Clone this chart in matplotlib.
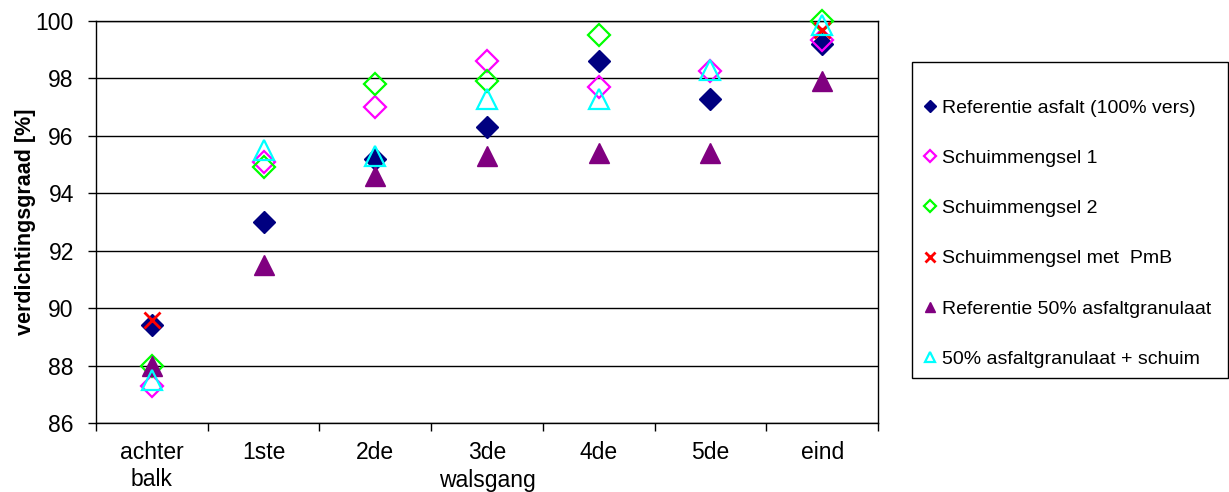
import numpy as np
import matplotlib.pyplot as plt
from matplotlib.patches import Rectangle

plt.rcParams.update({
    'font.family': ['Liberation Sans', 'DejaVu Sans'],
    'font.size': 16.5,
    'axes.linewidth': 1.0,
})

stappen = ['achter\nbalk', '1ste', '2de', '3de', '4de', '5de', 'eind']

ref_asfalt = [89.4, 93.0, 95.2, 96.3, 98.6, 97.3, 99.2]
schuim_1 = [87.3, 95.1, 97.0, 98.6, 97.7, 98.25, 99.35]
schuim_2 = [88.0, 94.9, 97.8, 97.9, 99.5, np.nan, 100.0]
schuim_pmb = [89.6, np.nan, np.nan, np.nan, np.nan, np.nan, 99.7]
ref_50 = [88.0, 91.5, 94.6, 95.3, 95.4, 95.4, 97.9]
granulaat_schuim = [87.5, 95.5, 95.3, 97.3, 97.3, 98.3, 99.85]

series = [
    ('Referentie asfalt (100% vers)', ref_asfalt, dict(marker='D', color='#000080', ms=11, mec='#000080')),
    ('Schuimmengsel 1', schuim_1, dict(marker='D', color='none', ms=11, mec='#FF00FF', mew=1.6)),
    ('Schuimmengsel 2', schuim_2, dict(marker='D', color='none', ms=11, mec='#00FF00', mew=1.6)),
    ('Schuimmengsel met  PmB', schuim_pmb, dict(marker='x', color='#FF0000', ms=12, mew=2)),
    ('Referentie 50% asfaltgranulaat', ref_50, dict(marker='^', color='#800080', ms=14, mec='#800080')),
    ('50% asfaltgranulaat + schuim', granulaat_schuim, dict(marker='^', color='none', ms=14, mec='#00FFFF', mew=1.6)),
]

fig = plt.figure(figsize=(12.29, 4.92), dpi=100)
ax = fig.add_axes([96/1229, 69/492, 782/1229, 402/492])

x = np.arange(len(stappen))
handles = []
for naam, waarden, stijl in series:
    h, = ax.plot(x, waarden, linestyle='none', label=naam, zorder=3, clip_on=False, **stijl)
    handles.append(h)

ax.set_xlim(-0.5, 6.5)
ax.set_ylim(86, 100)
ax.set_yticks(np.arange(86, 101, 2))
ax.set_xticks(x)
ax.set_xticklabels(stappen)
ax.set_xticks(np.arange(-0.5, 7, 1), minor=True)
ax.tick_params(axis='x', which='major', length=0, pad=13)
ax.tick_params(axis='x', which='minor', length=6, direction='out', width=1)
ax.tick_params(axis='y', length=6, direction='out', width=1, pad=10)
ax.yaxis.grid(True, color='black', linewidth=1.0)
ax.set_axisbelow(True)

ax.set_ylabel('verdichtingsgraad [%]', fontweight='bold', fontsize=15.5, labelpad=0)
fig.text(487/1229, 11/492, 'walsgang', ha='center', va='center', fontsize=16.5)

# legendakader apart getekend
fig.patches.append(Rectangle((912/1229, 1 - 378/492), 316/1229, 316/492,
                             transform=fig.transFigure, fill=False,
                             edgecolor='black', linewidth=1.0))
leg = fig.legend(handles=handles, loc='upper left',
                 bbox_to_anchor=(923/1229, 1 - 99/492),
                 fontsize=14, markerscale=0.55, handlelength=0.7, handletextpad=0.28,
                 labelspacing=1.68, borderpad=0, borderaxespad=0, frameon=False)

fig.savefig('out.png', dpi=100, facecolor='white')
